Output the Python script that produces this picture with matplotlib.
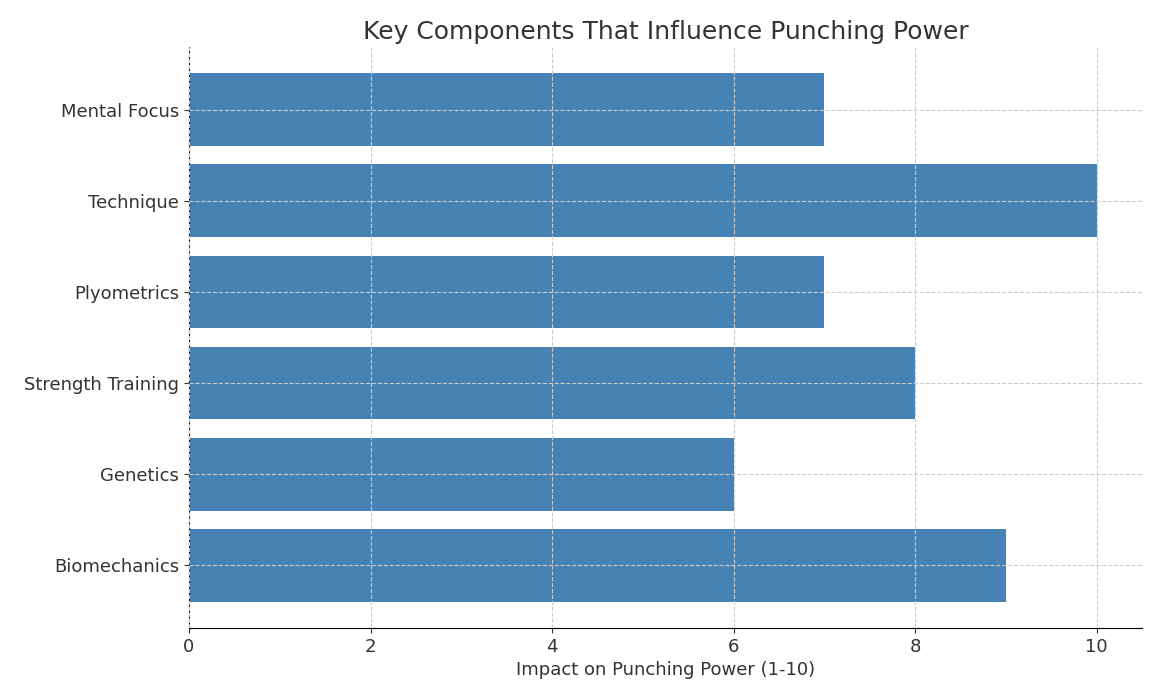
import matplotlib
matplotlib.use('Agg')
import matplotlib.pyplot as plt

categories = ['Biomechanics', 'Genetics', 'Strength Training', 'Plyometrics', 'Technique', 'Mental Focus']
impact = [9, 6, 8, 7, 10, 7]

fig = plt.figure(figsize=(11.6, 6.96), dpi=100)
ax = fig.add_axes([189/1160, 1-628/696, (1142-189)/1160, (628-47)/696])

ax.barh(categories, impact, color='steelblue', height=0.8)
ax.set_xlim(0, 10.5)
ax.set_ylim(-0.69, 5.69)
ax.grid(True, linestyle='--', color='#cccccc', linewidth=0.8)
ax.set_axisbelow(False)
for s in ['top', 'right']:
    ax.spines[s].set_visible(False)

ax.set_title('Key Components That Influence Punching Power', fontsize=18, color='#333333')
ax.set_xlabel('Impact on Punching Power (1-10)', fontsize=13, color='#333333')
ax.tick_params(labelsize=13, colors='#333333')

fig.savefig('out.png', dpi=100)
